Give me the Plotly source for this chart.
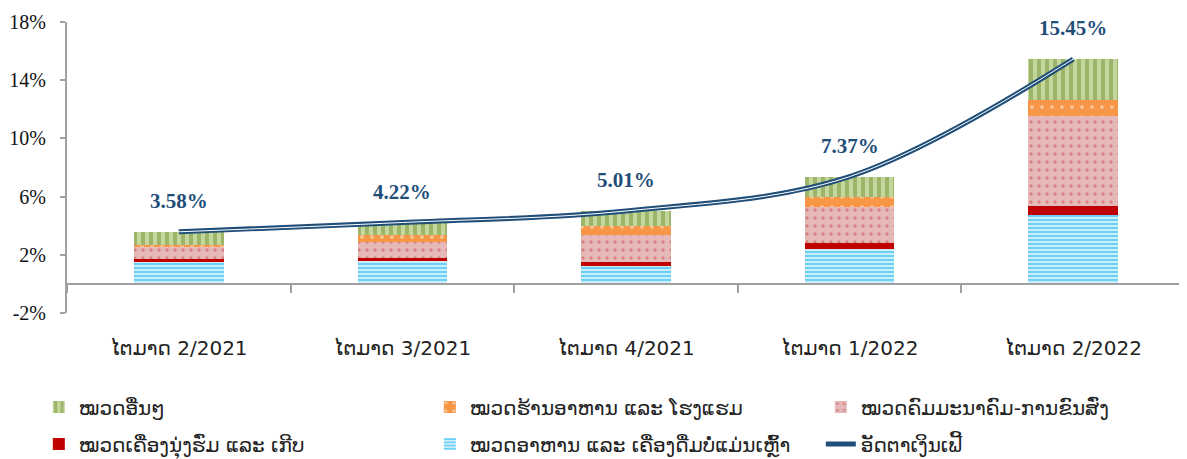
import plotly.graph_objects as go

quarters = ["ໄຕມາດ 2/2021", "ໄຕມາດ 3/2021", "ໄຕມາດ 4/2021", "ໄຕມາດ 1/2022", "ໄຕມາດ 2/2022"]
food = [1.52, 1.59, 1.23, 2.39, 4.74]
clothing = [0.16, 0.18, 0.26, 0.39, 0.64]
housing_transport = [0.86, 1.10, 1.88, 2.52, 6.17]
restaurants = [0.12, 0.46, 0.62, 0.69, 1.10]
others = [0.92, 0.89, 1.02, 1.38, 2.80]
inflation = [3.58, 4.22, 5.01, 7.37, 15.45]
y_ticks = [-2, 2, 6, 10, 14, 18]
y_tick_labels = ["-2%", "2%", "6%", "10%", "14%", "18%"]

names = {
    "food": "ໝວດອາຫານ ແລະ ເຄື່ອງດື່ມບໍ່ແມ່ນເຫຼົ້າ",
    "clothing": "ໝວດເຄື່ອງນຸ່ງຮົ່ມ ແລະ ເກີບ",
    "housing": "ໝວດຄົມມະນາຄົມ-ການຂົນສົ່ງ",
    "rest": "ໝວດຮ້ານອາຫານ ແລະ ໂຮງແຮມ",
    "others": "ໝວດອື່ນໆ",
    "infl": "ອັດຕາເງິນເຟີ້",
}

LAO = "DejaVu Sans, Noto Sans, sans-serif"
SERIF = "Liberation Serif, Times New Roman, serif"
NAVY = "#1F4E79"

fig = go.Figure()
fig.add_trace(go.Bar(x=quarters, y=food, name=names["food"], legend="legend2", legendrank=2,
                     marker=dict(color="#DDF3FC", line=dict(width=0),
                                 pattern=dict(shape="-", fgcolor="#00B0F0", bgcolor="#D6F0FB",
                                              size=4, solidity=0.55))))
fig.add_trace(go.Bar(x=quarters, y=clothing, name=names["clothing"], legend="legend2", legendrank=1,
                     marker=dict(color="#C00000", line=dict(width=0))))
fig.add_trace(go.Bar(x=quarters, y=housing_transport, name=names["housing"], legend="legend", legendrank=3,
                     marker=dict(color="#E6B9B8", line=dict(width=0),
                                 pattern=dict(shape=".", fgcolor="#C0504D", bgcolor="#E6B9B8",
                                              size=8, solidity=0.15))))
fig.add_trace(go.Bar(x=quarters, y=restaurants, name=names["rest"], legend="legend", legendrank=2,
                     marker=dict(color="#F79646", line=dict(width=0),
                                 pattern=dict(shape=".", fgcolor="#FFFFFF", bgcolor="#F79646",
                                              size=10, solidity=0.1))))
fig.add_trace(go.Bar(x=quarters, y=others, name=names["others"], legend="legend", legendrank=1,
                     marker=dict(color="#C3D69B", line=dict(width=0),
                                 pattern=dict(shape="|", fgcolor="#77933C", bgcolor="#C3D69B",
                                              size=8, solidity=0.5))))
fig.add_trace(go.Scatter(x=quarters, y=inflation, name=names["infl"], mode="lines",
                         legend="legend2", legendrank=3,
                         line=dict(color=NAVY, width=5, shape="spline", smoothing=1)))
fig.add_trace(go.Scatter(x=quarters, y=inflation, mode="lines", showlegend=False, hoverinfo="skip",
                         line=dict(color="white", width=1, shape="spline", smoothing=1)))

for q, v in zip(quarters, inflation):
    fig.add_annotation(x=q, y=v, text=f"<b>{v:.2f}%</b>", showarrow=False, yshift=31,
                       font=dict(family=SERIF, size=21, color=NAVY))

fig.update_layout(
    width=1179, height=451,
    margin=dict(l=58.6, r=1.6, t=14, b=146, autoexpand=False),
    paper_bgcolor="white", plot_bgcolor="white",
    barmode="stack", bargap=0.6,
    font=dict(family=LAO, size=20, color="#222222"),
    xaxis=dict(type="category", anchor="free", position=0.1, showline=True, automargin=False,
               linecolor="#A0A0A0", linewidth=2, ticks="outside", tickson="boundaries",
               ticklen=8, tickcolor="#A0A0A0", tickwidth=2, ticklabelstandoff=46,
               tickfont=dict(family=LAO, size=20, color="#222222"), showgrid=False),
    yaxis=dict(range=[-2, 18], tickmode="array", tickvals=y_ticks, ticktext=y_tick_labels,
               showline=True, automargin=False,
               linecolor="#A0A0A0", linewidth=2, ticks="outside", ticklen=5,
               tickcolor="#A0A0A0", tickwidth=2, showgrid=False, zeroline=False,
               ticklabelstandoff=10,
               tickfont=dict(family=SERIF, size=20, color="#111111")),
    legend=dict(orientation="h", x=-0.0252, xanchor="left", y=-0.323, yanchor="middle",
                entrywidth=346, traceorder="normal",
                font=dict(family=LAO, size=20, color="#222222")),
    legend2=dict(orientation="h", x=-0.0252, xanchor="left", y=-0.450, yanchor="middle",
                 entrywidth=346, traceorder="normal",
                 font=dict(family=LAO, size=20, color="#222222")),
    showlegend=True,
)

fig.write_html("out.html")
